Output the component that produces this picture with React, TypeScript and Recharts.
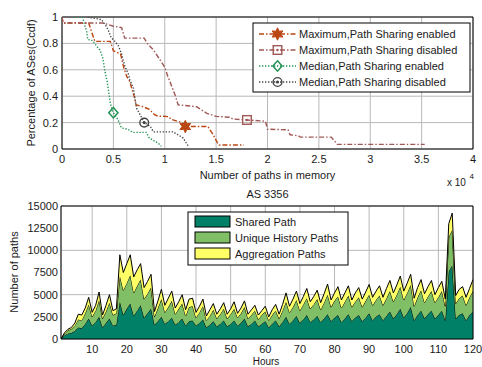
import React from 'react';
import {
  Area,
  AreaChart,
  CartesianGrid,
  ComposedChart,
  Line,
  ReferenceArea,
  Scatter,
  XAxis,
  YAxis,
} from 'recharts';

const FONT = '"Liberation Sans", Arial, Helvetica, sans-serif';

type Pt = [number, number];

// CCDF curves, x in units of 10^4 paths
const maxSharingOn: Pt[] = [
  [0, 1], [0.01, 0.955], [0.26, 0.955], [0.3, 0.86], [0.32, 0.815], [0.47, 0.815],
  [0.5, 0.745], [0.57, 0.72], [0.6, 0.62], [0.63, 0.55], [0.66, 0.51], [0.69, 0.43],
  [0.71, 0.38], [0.72, 0.335], [0.79, 0.32], [0.85, 0.3], [0.9, 0.26], [0.93, 0.25],
  [1.04, 0.245], [1.06, 0.225], [1.17, 0.2], [1.2, 0.17], [1.42, 0.17], [1.47, 0.11],
  [1.51, 0.05], [1.53, 0.03], [1.77, 0.03],
];
const maxSharingOff: Pt[] = [
  [0, 1], [0.01, 0.955], [0.4, 0.955], [0.5, 0.93], [0.58, 0.92], [0.61, 0.84],
  [0.8, 0.84], [0.83, 0.8], [0.89, 0.75], [0.95, 0.68], [1.0, 0.62], [1.03, 0.55],
  [1.07, 0.47], [1.1, 0.41], [1.13, 0.335], [1.31, 0.32], [1.41, 0.27], [1.5, 0.247],
  [1.64, 0.24], [1.66, 0.227], [1.8, 0.22], [1.98, 0.21], [2.0, 0.15], [2.2, 0.145],
  [2.22, 0.108], [2.3, 0.1], [2.32, 0.09], [2.62, 0.09], [2.68, 0.035], [3.53, 0.035],
];
const medSharingOn: Pt[] = [
  [0.11, 1], [0.2, 1], [0.22, 0.94], [0.24, 0.89], [0.25, 0.83], [0.3, 0.82],
  [0.335, 0.78], [0.37, 0.75], [0.4, 0.68], [0.415, 0.6], [0.44, 0.51], [0.455, 0.425],
  [0.47, 0.35], [0.49, 0.29], [0.5, 0.275], [0.545, 0.222], [0.578, 0.16], [0.64, 0.15],
  [0.69, 0.126], [0.82, 0.126], [0.85, 0.083], [0.935, 0.045], [0.967, 0.02],
];
const medSharingOff: Pt[] = [
  [0.25, 1], [0.385, 0.98], [0.43, 0.93], [0.45, 0.9], [0.48, 0.84], [0.5, 0.83],
  [0.53, 0.8], [0.55, 0.78], [0.58, 0.72], [0.61, 0.63], [0.645, 0.57], [0.66, 0.525],
  [0.695, 0.46], [0.71, 0.38], [0.725, 0.31], [0.76, 0.26], [0.8, 0.2], [0.86, 0.17],
  [0.89, 0.13], [1.08, 0.13], [1.18, 0.083], [1.23, 0.02],
];

// one marker per curve
const markMaxOn: Pt[] = [[1.2, 0.17]];
const markMaxOff: Pt[] = [[1.8, 0.22]];
const markMedOn: Pt[] = [[0.5, 0.275]];
const markMedOff: Pt[] = [[0.8, 0.2]];

const topXTicks = [0, 0.5, 1, 1.5, 2, 2.5, 3, 3.5, 4];
const topYTicks = [0, 0.2, 0.4, 0.6, 0.8, 1];

// AS 3356, paths per hour
const shared = [
  0, 400, 600, 700, 900, 1300, 1200, 1700, 2300, 1500,
  1900, 2500, 1300, 1800, 2300, 1500, 1600, 4200, 2700, 3400,
  4000, 2600, 3200, 3800, 2400, 2900, 3400, 1600, 2000, 2500,
  1700, 2000, 2400, 1600, 1900, 2300, 1500, 2000, 2100, 1500,
  1800, 2200, 1300, 1600, 2000, 1400, 1700, 2100, 1400, 1700,
  2100, 1500, 1800, 2300, 1400, 1700, 2100, 1400, 1700, 2000,
  1300, 1700, 2100, 1400, 1900, 2500, 1700, 2100, 2600, 1800,
  2200, 2700, 1900, 2200, 2600, 1900, 2300, 2800, 2000, 2400,
  2700, 1900, 2300, 2800, 2000, 2400, 2700, 2000, 2400, 2900,
  2100, 2500, 2800, 2100, 2600, 3100, 2300, 2800, 3400, 2400,
  2900, 3600, 2100, 2700, 3200, 2300, 2800, 3200, 2300, 2700,
  3200, 2100, 7600, 8300, 2300, 2700, 2900, 2100, 2700, 3100,
];
const uniqueHistory = [
  0, 200, 350, 450, 600, 900, 900, 1200, 1600, 1000,
  1300, 1900, 1000, 1300, 1800, 1200, 1300, 2900, 2800, 2900,
  3200, 2600, 2800, 2900, 2100, 2200, 2400, 900, 1500, 2000,
  1300, 1600, 1900, 1200, 1500, 1700, 1100, 1600, 1600, 900,
  1200, 1500, 800, 1000, 1300, 900, 1100, 1300, 900, 1100,
  1300, 900, 1100, 1300, 900, 1000, 1100, 800, 1000, 1100,
  800, 1000, 1100, 900, 1300, 1700, 1300, 1500, 1800, 1400,
  1700, 1900, 1500, 1700, 1900, 1400, 1800, 2200, 1600, 1900,
  2100, 1600, 1900, 2100, 1600, 1800, 2000, 1600, 1900, 2100,
  1700, 1900, 2100, 1700, 2000, 2300, 1900, 2200, 2500, 2000,
  2300, 2500, 1600, 2000, 2300, 1800, 2000, 2200, 1800, 2000,
  2200, 1600, 3900, 4000, 1700, 1900, 2000, 1700, 2000, 2300,
];
const aggregation = [
  0, 100, 150, 150, 300, 600, 600, 600, 800, 500,
  600, 900, 400, 700, 900, 500, 500, 2400, 2000, 2200,
  2300, 1800, 1800, 1800, 1300, 1400, 1500, 600, 800, 1100,
  800, 1000, 1100, 700, 800, 1000, 700, 900, 900, 600,
  700, 800, 500, 700, 700, 500, 600, 700, 500, 600,
  800, 500, 600, 700, 500, 600, 600, 500, 500, 600,
  400, 600, 700, 500, 700, 1000, 700, 900, 1000, 800,
  900, 1100, 800, 900, 1000, 800, 1000, 1200, 800, 900,
  1100, 900, 1000, 1100, 800, 1000, 1100, 900, 1000, 1150,
  900, 1000, 1100, 900, 1100, 1200, 1000, 1100, 1200, 1000,
  1100, 1200, 900, 1100, 1200, 1000, 1100, 1200, 900, 1100,
  1100, 800, 1500, 1900, 900, 1000, 1000, 900, 1000, 1300,
];
const hours = shared.map((_, i) => i + 1);
const hourTicks = [10, 20, 30, 40, 50, 60, 70, 80, 90, 100, 110, 120];
const pathTicks = [0, 2500, 5000, 7500, 10000, 12500, 15000];

const hourRows = hours.map((h, i) => ({
  hour: h,
  shared: shared[i],
  unique: uniqueHistory[i],
  aggregation: aggregation[i],
}));

const toRows = (pts: Pt[]) => pts.map(([x, y]) => ({ x, y }));

type MarkerKind = 'hexagram' | 'square' | 'diamond' | 'circle';

function renderMarker(kind: MarkerKind, cx: number, cy: number, color: string) {
  if (kind === 'hexagram') {
    const pts: string[] = [];
    for (let k = 0; k < 12; k++) {
      const a = ((-90 + k * 30) * Math.PI) / 180;
      const r = k % 2 === 0 ? 6.2 : 3.2;
      pts.push(`${cx + r * Math.cos(a)},${cy + r * Math.sin(a)}`);
    }
    return <polygon points={pts.join(' ')} fill={color} stroke={color} strokeWidth={1} />;
  }
  if (kind === 'square') {
    return (
      <g>
        <rect x={cx - 4.3} y={cy - 4.3} width={8.6} height={8.6} fill="none" stroke={color} strokeWidth={1.4} />
        <circle cx={cx} cy={cy} r={1.2} fill={color} />
      </g>
    );
  }
  if (kind === 'diamond') {
    return (
      <polygon
        points={`${cx},${cy - 5.2} ${cx + 4.6},${cy} ${cx},${cy + 5.2} ${cx - 4.6},${cy}`}
        fill="none"
        stroke={color}
        strokeWidth={1.5}
      />
    );
  }
  return (
    <g>
      <circle cx={cx} cy={cy} r={4.4} fill="none" stroke={color} strokeWidth={1.4} />
      <circle cx={cx} cy={cy} r={1.6} fill={color} />
    </g>
  );
}

const curves = [
  { name: 'Maximum,Path Sharing enabled', pts: maxSharingOn, mark: markMaxOn, color: '#BA4612', dash: '5 2 1.5 2', kind: 'hexagram' as MarkerKind },
  { name: 'Maximum,Path Sharing disabled', pts: maxSharingOff, mark: markMaxOff, color: '#A05855', dash: '5 2 1.5 2', kind: 'square' as MarkerKind },
  { name: 'Median,Path Sharing enabled', pts: medSharingOn, mark: markMedOn, color: '#239455', dash: '1.3 1.7', kind: 'diamond' as MarkerKind },
  { name: 'Median,Path Sharing disabled', pts: medSharingOff, mark: markMedOff, color: '#444444', dash: '1.3 1.7', kind: 'circle' as MarkerKind },
];

const layers = [
  { key: 'shared', name: 'Shared Path', fill: '#008066' },
  { key: 'unique', name: 'Unique History Paths', fill: '#80BF66' },
  { key: 'aggregation', name: 'Aggregation Paths', fill: '#FFFF66' },
];

const tickStyle = { fontSize: 11, fill: '#1a1a1a', fontFamily: FONT };
const GRID = '#b8b8b8';

function CcdfChart() {
  return (
    <ComposedChart width={482} height={190} margin={{ top: 17, right: 9, bottom: 0, left: 0 }}>
      <CartesianGrid stroke={GRID} />
      <XAxis
        type="number"
        dataKey="x"
        domain={[0, 4]}
        ticks={topXTicks}
        tickFormatter={(v: number) => String(v)}
        height={41}
        tickSize={0}
        tickMargin={6}
        axisLine={false}
        tick={tickStyle}
        allowDataOverflow
      />
      <YAxis
        type="number"
        dataKey="y"
        domain={[0, 1]}
        ticks={topYTicks}
        tickFormatter={(v: number) => String(v)}
        width={62}
        tickSize={0}
        tickMargin={4}
        axisLine={false}
        tick={tickStyle}
        allowDataOverflow
      />
      {curves.map((c) => (
        <Line
          key={c.name}
          data={toRows(c.pts)}
          dataKey="y"
          type="linear"
          stroke={c.color}
          strokeWidth={1.4}
          strokeDasharray={c.dash}
          dot={false}
          activeDot={false}
          isAnimationActive={false}
        />
      ))}
      {curves.map((c) => (
        <Scatter
          key={c.name + '-mark'}
          data={toRows(c.mark)}
          dataKey="y"
          isAnimationActive={false}
          shape={(p: any) => renderMarker(c.kind, p.cx, p.cy, c.color)}
        />
      ))}
      <ReferenceArea x1={0} x2={4} y1={0} y2={1} fill="none" stroke="#000" strokeWidth={1} />
    </ComposedChart>
  );
}

function PathsChart() {
  return (
    <AreaChart width={482} height={177} data={hourRows} margin={{ top: 16, right: 9, bottom: 0, left: 0 }}>
      <CartesianGrid stroke={GRID} />
      <XAxis
        type="number"
        dataKey="hour"
        domain={[1, 120]}
        ticks={hourTicks}
        height={28}
        tickSize={0}
        tickMargin={6}
        axisLine={false}
        tick={tickStyle}
        allowDataOverflow
      />
      <YAxis
        type="number"
        domain={[0, 15000]}
        ticks={pathTicks}
        width={61}
        tickSize={0}
        tickMargin={3}
        axisLine={false}
        tick={tickStyle}
        allowDataOverflow
      />
      {layers.map((l) => (
        <Area
          key={l.key}
          dataKey={l.key}
          name={l.name}
          stackId="paths"
          type="linear"
          stroke="#000"
          strokeWidth={1}
          fill={l.fill}
          fillOpacity={1}
          dot={false}
          activeDot={false}
          isAnimationActive={false}
        />
      ))}
      <ReferenceArea x1={1} x2={120} y1={0} y2={15000} fill="none" stroke="#000" strokeWidth={1} />
    </AreaChart>
  );
}

function Overlay() {
  const rowY = [34, 50, 66, 82];
  const swY = [216, 232, 248];
  return (
    <svg
      width={482}
      height={367}
      style={{ position: 'absolute', left: 0, top: 0, pointerEvents: 'none' }}
      fontFamily={FONT}
      fontSize={11}
      fill="#1a1a1a"
    >
      <text transform="translate(31,83) rotate(-90)" textAnchor="middle" dominantBaseline="central">
        Percentage of ASes(Ccdf)
      </text>
      <text x={267.5} y={179} textAnchor="middle">Number of paths in memory</text>
      <text x={447} y={186} fontSize={10}>x 10</text>
      <text x={469.5} y={179} fontSize={8}>4</text>
      <text x={267.5} y={198} textAnchor="middle">AS 3356</text>
      <text transform="translate(14,272) rotate(-90)" textAnchor="middle" dominantBaseline="central">
        Number of paths
      </text>
      <text x={266} y={365} textAnchor="middle" fontSize={10}>Hours</text>

      <rect x={253} y={23} width={217} height={69} fill="#fff" stroke="#000" strokeWidth={1} />
      {curves.map((c, i) => (
        <g key={c.name}>
          <line x1={259} x2={296} y1={rowY[i]} y2={rowY[i]} stroke={c.color} strokeWidth={1.4} strokeDasharray={c.dash} />
          {renderMarker(c.kind, 277.5, rowY[i], c.color)}
          <text x={299} y={rowY[i] + 4}>{c.name}</text>
        </g>
      ))}

      <rect x={188} y={212} width={160} height={53} fill="#fff" stroke="#000" strokeWidth={1} />
      {layers.map((l, i) => (
        <g key={l.key}>
          <rect x={195} y={swY[i]} width={35} height={11} fill={l.fill} stroke="#000" strokeWidth={1} />
          <text x={235} y={swY[i] + 9.5}>{l.name}</text>
        </g>
      ))}
    </svg>
  );
}

export default function App() {
  return (
    <div style={{ position: 'absolute', left: 0, top: 0, width: 482, height: 367, background: '#fff', overflow: 'hidden' }}>
      <div style={{ position: 'absolute', left: 0, top: 0 }}>
        <CcdfChart />
      </div>
      <div style={{ position: 'absolute', left: 0, top: 190 }}>
        <PathsChart />
      </div>
      <Overlay />
    </div>
  );
}
